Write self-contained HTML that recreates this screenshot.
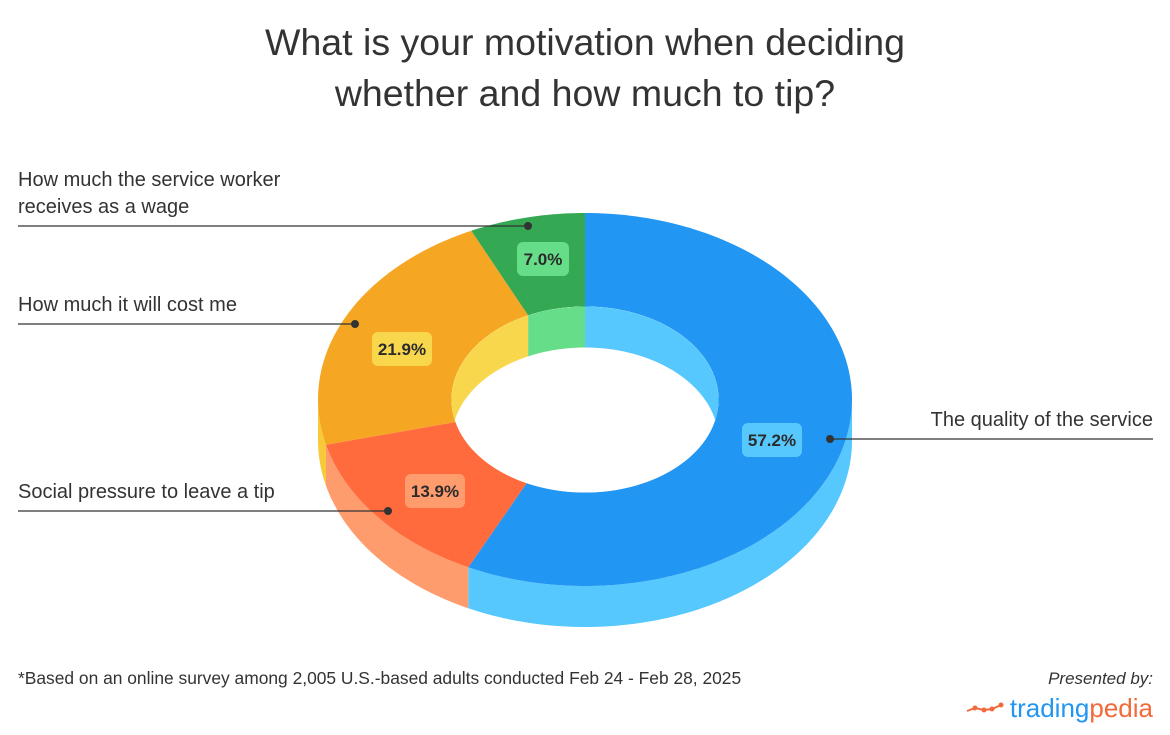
<!DOCTYPE html>
<html><head><meta charset="utf-8"><style>
body{margin:0;background:#fff;width:1170px;height:735px;overflow:hidden;font-family:"Liberation Sans",sans-serif;}
svg{display:block}
</style></head><body>
<svg id="chart" width="1170" height="735" viewBox="0 0 1170 735">
<text x="585" y="55" text-anchor="middle" font-size="37.5" fill="#333">What is your motivation when deciding</text>
<text x="585" y="106" text-anchor="middle" font-size="37.5" fill="#333">whether and how much to tip?</text>
<g id="pie"></g>
<g id="labels"></g>
<text x="18" y="684" font-size="17.4" fill="#333">*Based on an online survey among 2,005 U.S.-based adults conducted Feb 24 - Feb 28, 2025</text>
<text x="1153" y="684" text-anchor="end" font-size="17" font-style="italic" fill="#333">Presented by:</text>
<g>
<polyline points="967,711 975,708 984,710 992,709 1001,705" fill="none" stroke="#f26a3c" stroke-width="2"/>
<circle cx="975" cy="708" r="2.5" fill="#f26a3c"/><circle cx="984" cy="710" r="2.5" fill="#f26a3c"/><circle cx="992" cy="709" r="2.5" fill="#f26a3c"/><circle cx="1001" cy="705" r="2.5" fill="#f26a3c"/>
<text x="1153" y="717" text-anchor="end" font-size="26"><tspan fill="#2196f3">trading</tspan><tspan fill="#f26a3c">pedia</tspan></text>
</g>
</svg>
<script>
const categories=["The quality of the service","Social pressure to leave a tip","How much it will cost me","How much the service worker receives as a wage"];
const values=[57.2,13.9,21.9,7.0];
const valueLabels=["57.2%","13.9%","21.9%","7.0%"];
const topColors=["#2196f3","#ff6b3d","#f5a623","#34a853"];
const sideColors=["#56c8fe","#ff9c6e","#f8c93a","#66dd88"];
const innerColors=["#56c8fe","#ff9c6e","#f9d74c","#66dd88"];
const boxColors=["#56c8fe","#ff9c6e","#f9d74c","#66dd88"];

const NS="http://www.w3.org/2000/svg";
const cx=585,cy=399.5,rx=267,ry=186.5,irx=133.5,iry=93,depth=41;
const pie=document.getElementById('pie'),labels=document.getElementById('labels');
function pt(a,RX,RY,dy){const r=a*Math.PI/180;return [cx+RX*Math.sin(r),cy-RY*Math.cos(r)+(dy||0)];}
function arc(a,b,RX,RY,dy){let s="";const n=Math.max(2,Math.ceil(Math.abs(b-a)/1));for(let i=0;i<=n;i++){const p=pt(a+(b-a)*i/n,RX,RY,dy);s+=(i?"L":"")+p[0].toFixed(2)+","+p[1].toFixed(2);}return s;}
function mk(tag,attrs){const e=document.createElementNS(NS,tag);for(const k in attrs)e.setAttribute(k,attrs[k]);return e;}
const total=values.reduce((a,b)=>a+b,0);
const angles=[];let acc=0;
values.forEach(v=>{const a=acc/total*360;acc+=v;angles.push([a,acc/total*360]);});
angles.forEach(([a,b],i)=>{const s=Math.max(a,90),e=Math.min(b,270);if(e<=s)return;
 const p=mk('path',{d:"M"+arc(s,e,rx,ry,0)+"L"+arc(e,s,rx,ry,depth)+"Z",fill:sideColors[i]});
 
 
 pie.appendChild(p);});
angles.forEach(([a,b],i)=>{
 const p=mk('path',{d:"M"+arc(a,b,rx,ry,0)+"L"+arc(b,a,irx,iry,0)+"Z",fill:topColors[i]});
 
 
 pie.appendChild(p);});
const defs=mk('defs',{});const cp=mk('clipPath',{id:'hole'});cp.appendChild(mk('ellipse',{cx:cx,cy:cy,rx:irx,ry:iry}));defs.appendChild(cp);pie.appendChild(defs);
const hole=mk('ellipse',{cx:cx,cy:cy,rx:irx,ry:iry,fill:'#fff'});


pie.appendChild(hole);
const ig=mk('g',{'clip-path':'url(#hole)'});pie.appendChild(ig);
angles.forEach(([a,b],i)=>{
 [[a,b],[a-360,b-360]].forEach(([x,y])=>{const s=Math.max(x,-90),e=Math.min(y,90);if(e<=s)return;
  const p=mk('path',{d:"M"+arc(s,e,irx,iry,0)+"L"+arc(e,s,irx,iry,depth)+"Z",fill:innerColors[i]});
  
  
  ig.appendChild(p);});});
const boxPos=[[772,440],[435,491],[402,349],[543,259]];
const dotPos=[[830,439],[388,511],[355,324],[528,226]];
const lineEnd=[1153,18,18,18];
const nameLines=[["The quality of the service"],["Social pressure to leave a tip"],["How much it will cost me"],["How much the service worker","receives as a wage"]];
values.forEach((v,i)=>{
 const [bx,by]=boxPos[i];const w=valueLabels[i].length>4?60:52;
 const r=mk('rect',{x:bx-w/2,y:by-17,width:w,height:34,rx:6,fill:boxColors[i]});
 
 
 labels.appendChild(r);
 const t=mk('text',{x:bx,y:by+6,'text-anchor':'middle','font-size':17,'font-weight':'bold',fill:'#2b2b2b'});t.textContent=valueLabels[i];
 
 
 labels.appendChild(t);
 const [dx,dy]=dotPos[i];
 const l=mk('line',{x1:dx,y1:dy,x2:lineEnd[i],y2:dy,stroke:'#333','stroke-width':1.2});
 
 
 labels.appendChild(l);
 const c=mk('circle',{cx:dx,cy:dy,r:4,fill:'#333'});
 
 
 labels.appendChild(c);
 const ls=nameLines[i];const right=lineEnd[i]>cx;
 ls.forEach((s,k)=>{const tt=mk('text',{x:lineEnd[i],y:dy-13-(ls.length-1-k)*27,'text-anchor':right?'end':'start','font-size':20,fill:'#333'});tt.textContent=s;
  
  
  labels.appendChild(tt);});
});
</script>
</body></html>
